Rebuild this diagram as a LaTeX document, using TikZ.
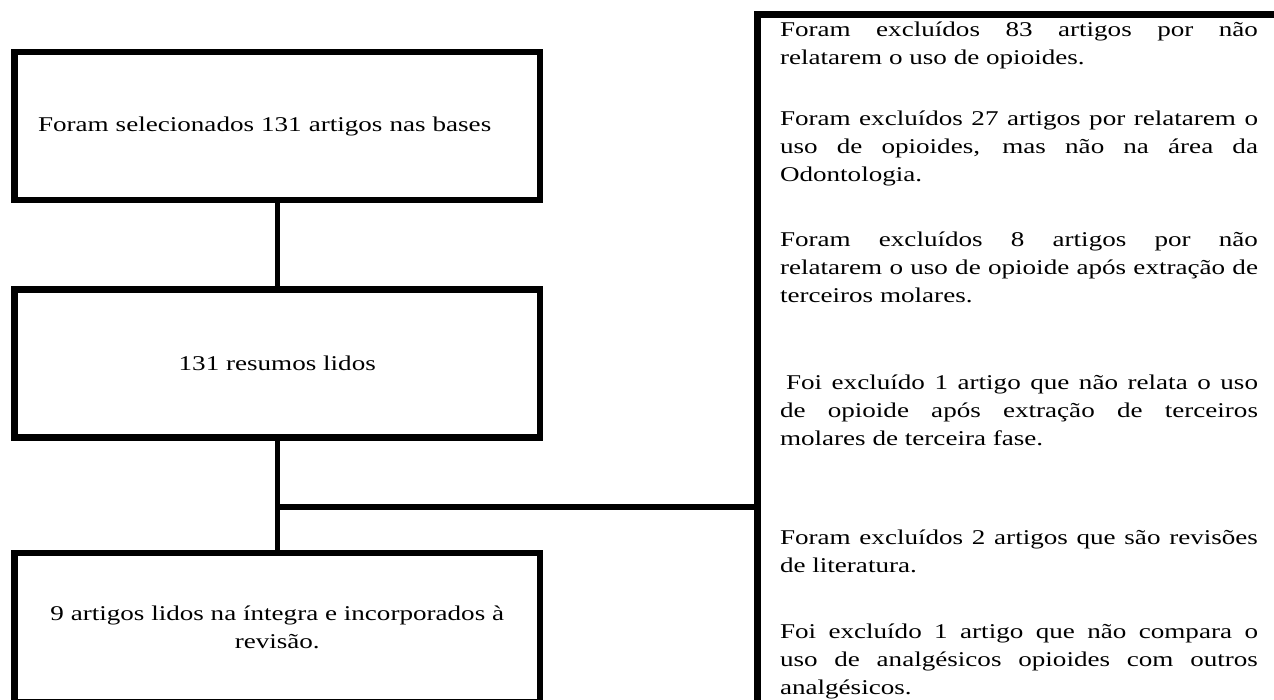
\documentclass[tikz,border=0pt]{standalone}
\usepackage{fontspec}
\setmainfont[FakeStretch=1.29]{Liberation Serif}
\newcommand\diagfont{\fontsize{21}{28}\selectfont\hyphenpenalty=10000\exhyphenpenalty=10000\tolerance=10000}
\begin{document}
\begin{tikzpicture}[x=1pt,y=-1pt,
  box/.style={draw, line width=6.5pt, inner sep=0pt, outer sep=0pt, minimum width=525.5pt, minimum height=148pt, align=center, font=\diagfont},
  conn/.style={line width=5.5pt},
  para/.style={anchor=base west, inner sep=0pt, outer sep=0pt, text width=478pt, align=justify, font=\diagfont}]
\clip (0,0) rectangle (1274,700);
\fill[white] (0,0) rectangle (1274,700);
\node[box, text width=478.5pt, align=left] (b1) at (277.25,126) {Foram selecionados 131 artigos nas bases};
\node[box] (b2) at (277.25,363.5) {131 resumos lidos};
\node[box, minimum height=149pt] (b3) at (277.25,627.5) {9 artigos lidos na íntegra e incorporados à\\revisão.};
\node[draw, line width=7pt, inner sep=0pt, outer sep=0pt, minimum width=600pt, minimum height=720pt, anchor=north west] (ex) at (757,14.5) {};
\draw[conn] (b1.south) -- (b2.north);
\draw[conn] (b2.south) -- (b3.north);
\coordinate (j) at (277.25,507);
\draw[conn] (j) -- (j -| ex.west);
\node[para] (p1) at (780,37) {Foram excluídos 83 artigos por não\linebreak relatarem o uso de opioides.};
\node[para] (p2) at (780,126) {Foram excluídos 27 artigos por relatarem o\linebreak uso de opioides, mas não na área da\linebreak Odontologia.};
\node[para] (p3) at (780,247) {Foram excluídos 8 artigos por não\linebreak relatarem o uso de opioide após extração de\linebreak terceiros molares.};
\node[para] (p4) at (780,389) {\hspace*{6pt}Foi excluído 1 artigo que não relata o uso\linebreak de opioide após extração de terceiros\linebreak molares de terceira fase.};
\node[para] (p5) at (780,544) {Foram excluídos 2 artigos que são revisões\linebreak de literatura.};
\node[para] (p6) at (780,638) {Foi excluído 1 artigo que não compara o\linebreak uso de analgésicos opioides com outros\linebreak analgésicos.};
\end{tikzpicture}
\end{document}
